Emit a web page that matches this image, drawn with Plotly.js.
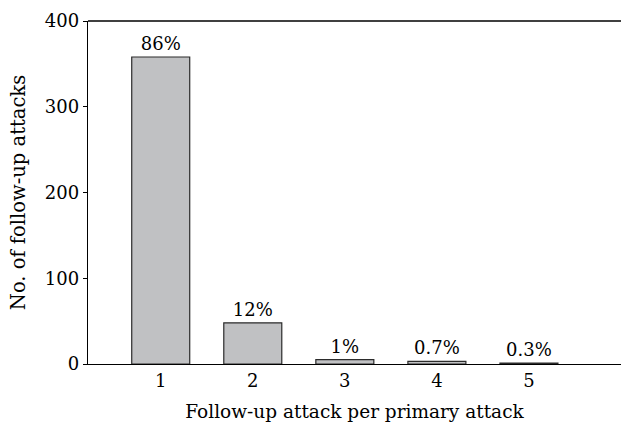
<!DOCTYPE html>
<html>
<head>
<meta charset="utf-8">
<script src="https://cdn.plot.ly/plotly-3.0.1.min.js"></script>
<style>html,body{margin:0;padding:0;background:#fff;}#chart{width:622px;height:424px;}</style>
</head>
<body>
<div id="chart"></div>
<script>
const categories = [1, 2, 3, 4, 5];
const attacks = [358, 48, 5, 3, 1];
const percentLabels = ["86%", "12%", "1%", "0.7%", "0.3%"];
const yTicks = [0, 100, 200, 300, 400];

const font = "DejaVu Serif, serif";

const trace = {
  type: "bar",
  x: categories,
  y: attacks,
  width: 0.63,
  text: percentLabels,
  textposition: "outside",
  cliponaxis: false,
  textfont: {family: font, size: 18, color: "#000"},
  marker: {color: "#c0c1c3", line: {color: "#2b2b2b", width: 1.2}},
  hoverinfo: "none"
};

const layout = {
  width: 622,
  height: 424,
  margin: {l: 88, r: 1, t: 21, b: 60},
  paper_bgcolor: "#fff",
  plot_bgcolor: "#fff",
  showlegend: false,
  font: {family: font, size: 18, color: "#000"},
  xaxis: {
    range: [0.21, 6.0],
    tickvals: categories,
    ticktext: categories.map(String),
    ticks: "",
    showgrid: false,
    zeroline: false,
    showline: true,
    linecolor: "#000",
    linewidth: 1.3,
    mirror: false,
    tickfont: {family: font, size: 18, color: "#000"},
    title: {text: "Follow-up attack per primary attack", font: {family: font, size: 18.5, color: "#000"}, standoff: 15}
  },
  yaxis: {
    range: [0, 400],
    tickvals: yTicks,
    ticks: "outside",
    ticklen: 4,
    tickcolor: "#000",
    tickwidth: 1,
    showgrid: false,
    zeroline: false,
    showline: true,
    linecolor: "#000",
    linewidth: 1.3,
    tickfont: {family: font, size: 18, color: "#000"},
    title: {text: "No. of follow-up attacks", font: {family: font, size: 19.5, color: "#000"}, standoff: 14}
  },
  shapes: [{
    type: "line", xref: "paper", yref: "paper", x0: 0, x1: 1, y0: 1, y1: 1,
    line: {color: "#000", width: 1.3}
  }]
};

Plotly.newPlot("chart", [trace], layout, {staticPlot: true, displayModeBar: false});
</script>
</body>
</html>
